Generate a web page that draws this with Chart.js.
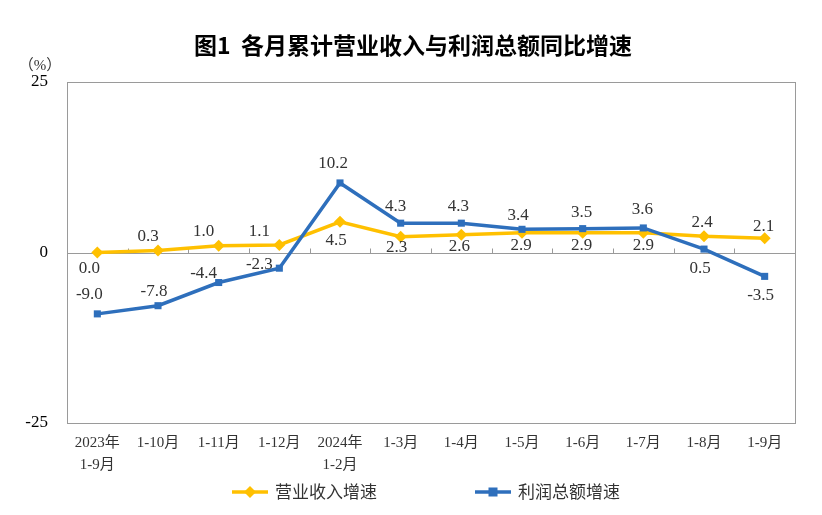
<!DOCTYPE html>
<html>
<head>
<meta charset="utf-8">
<script src="https://cdn.jsdelivr.net/npm/chart.js@4.4.0/dist/chart.umd.min.js"></script>
<style>
  html, body { margin: 0; padding: 0; background: #fff; }
  #wrap { width: 822px; height: 515px; }
</style>
</head>
<body>
<div id="wrap"><canvas id="myChart"></canvas></div>
<script>
var labels = [['2023年', '1-9月'], '1-10月', '1-11月', '1-12月', ['2024年', '1-2月'],
  '1-3月', '1-4月', '1-5月', '1-6月', '1-7月', '1-8月', '1-9月']
var revenueValues = [0.0, 0.3, 1.0, 1.1, 4.5, 2.3, 2.6, 2.9, 2.9, 2.9, 2.4, 2.1]
var profitValues = [-9.0, -7.8, -4.4, -2.3, 10.2, 4.3, 4.3, 3.4, 3.5, 3.6, 0.5, -3.5]
var yTicks = [25, 0, -25]

var YELLOW = '#FFC000'
var BLUE = '#2E6FBC'
var SERIF = '"Liberation Serif", "Noto Sans CJK SC", serif'

// label offsets from each point, [dx, dy] in px
var revenueLabelOffsets = [[-8, 16], [-10, -14], [-15, -14], [-20, -13], [-4, 19], [-4, 11],
  [-2, 12], [-1, 13], [-1, 13], [0, 13], [-2, -14], [-1, -12]]
var profitLabelOffsets = [[-8, -19], [-4, -14], [-15, -9], [-20, -4], [-7, -19], [-5, -17],
  [-3, -17], [-4, -14], [-1, -16], [-1, -18], [-4, 19], [-4, 19]]

// zero line with the little category ticks, plus the plot frame
var framePlugin = {
  id: 'frame',
  beforeDatasetsDraw(chart) {
    var ctx = chart.ctx
    var a = chart.chartArea
    var x = chart.scales.x
    var y0 = Math.round(chart.scales.y.getPixelForValue(0)) + 0.5
    ctx.save()
    ctx.strokeStyle = '#9a9a9a'
    ctx.lineWidth = 1
    ctx.strokeRect(Math.round(a.left) + 0.5, Math.round(a.top) + 0.5,
      Math.round(a.right - a.left), Math.round(a.bottom - a.top))
    ctx.beginPath()
    ctx.moveTo(a.left, y0)
    ctx.lineTo(a.right, y0)
    for (var i = 1; i < labels.length; i++) {
      var bx = Math.round((x.getPixelForValue(i - 1) + x.getPixelForValue(i)) / 2) + 0.5
      ctx.moveTo(bx, y0)
      ctx.lineTo(bx, y0 - 5)
    }
    ctx.stroke()
    ctx.restore()
  }
}

var valueLabelPlugin = {
  id: 'valueLabels',
  afterDatasetsDraw(chart) {
    var ctx = chart.ctx
    var offsets = [revenueLabelOffsets, profitLabelOffsets]
    ctx.save()
    ctx.font = '17px ' + SERIF
    ctx.fillStyle = '#333'
    ctx.textAlign = 'center'
    ctx.textBaseline = 'middle'
    chart.data.datasets.forEach(function (ds, di) {
      var meta = chart.getDatasetMeta(di)
      meta.data.forEach(function (pt, i) {
        var off = offsets[di][i]
        ctx.fillText(ds.data[i].toFixed(1), pt.x + off[0], pt.y + off[1])
      })
    })
    ctx.restore()
  }
}

// title, legend and the (%) unit drawn by hand
var extrasPlugin = {
  id: 'extras',
  afterDraw(chart) {
    var ctx = chart.ctx
    ctx.save()
    ctx.fillStyle = '#000'
    ctx.font = 'bold 23px "Noto Sans CJK SC", sans-serif'
    ctx.textAlign = 'center'
    ctx.textBaseline = 'middle'
    ctx.fillText('图1  各月累计营业收入与利润总额同比增速', 413, 45)

    ctx.fillStyle = '#333'
    ctx.font = '15px ' + SERIF
    ctx.fillText('（%）', 40, 66)

    var items = [
      { text: '营业收入增速', color: YELLOW, marker: 'diamond', x: 232 },
      { text: '利润总额增速', color: BLUE, marker: 'square', x: 475 }
    ]
    var ly = 492
    items.forEach(function (it) {
      ctx.strokeStyle = it.color
      ctx.lineWidth = 3.5
      ctx.beginPath()
      ctx.moveTo(it.x, ly)
      ctx.lineTo(it.x + 36, ly)
      ctx.stroke()
      ctx.fillStyle = it.color
      var cx = it.x + 18
      if (it.marker === 'diamond') {
        ctx.beginPath()
        ctx.moveTo(cx, ly - 6)
        ctx.lineTo(cx + 6, ly)
        ctx.lineTo(cx, ly + 6)
        ctx.lineTo(cx - 6, ly)
        ctx.closePath()
        ctx.fill()
      } else {
        ctx.fillRect(cx - 4.5, ly - 4.5, 9, 9)
      }
      ctx.fillStyle = '#333'
      ctx.font = '17px "Noto Sans CJK SC", sans-serif'
      ctx.textAlign = 'left'
      ctx.fillText(it.text, it.x + 43, ly)
    })
    ctx.restore()
  }
}

var ctx = document.getElementById('myChart').getContext('2d')
var myChart = new Chart(ctx, {
  type: 'line',
  data: {
    labels: labels,
    datasets: [{
        label: '营业收入增速',
        data: revenueValues,
        borderColor: YELLOW,
        backgroundColor: YELLOW,
        borderWidth: 3.5,
        pointStyle: 'rectRot',
        pointRadius: 6,
        pointBorderWidth: 0,
        tension: 0,
        order: 1
    },
    {
        label: '利润总额增速',
        data: profitValues,
        borderColor: BLUE,
        backgroundColor: BLUE,
        borderWidth: 3.5,
        pointStyle: 'rect',
        pointRadius: 5,
        pointBorderWidth: 0,
        tension: 0,
        order: 0
    }]
  },
  options: {
    responsive: true,
    maintainAspectRatio: false,
    animation: false,
    layout: { padding: { left: 0, right: 27, top: 82, bottom: 0 } },
    plugins: {
      legend: { display: false },
      tooltip: { enabled: false },
      title: { display: false }
    },
    scales: {
      x: {
        offset: true,
        grid: { display: false },
        border: { display: false },
        ticks: {
          color: '#333',
          font: { family: SERIF, size: 15, lineHeight: 1.45 },
          padding: 1,
          maxRotation: 0,
          autoSkip: false
        },
        afterFit(scale) { scale.height = 92 }
      },
      y: {
        min: -25,
        max: 25,
        afterBuildTicks(scale) { scale.ticks = yTicks.map(function (v) { return { value: v } }) },
        grid: { display: false, drawTicks: false },
        border: { display: false },
        ticks: {
          color: '#000',
          font: { family: SERIF, size: 17 },
          padding: 19
        },
        afterFit(scale) { scale.width = 67 }
      }
    }
  },
  plugins: [framePlugin, valueLabelPlugin, extrasPlugin]
})
</script>
</body>
</html>
